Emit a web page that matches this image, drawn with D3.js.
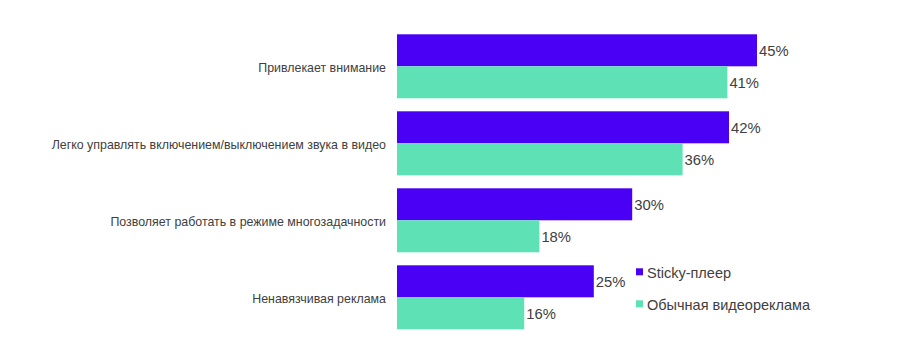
<!DOCTYPE html>
<html>
<head>
<meta charset="utf-8">
<script src="https://cdn.jsdelivr.net/npm/d3@7"></script>
<style>
  html, body { margin: 0; padding: 0; background: #fff; }
  svg { display: block; font-family: "Liberation Sans", Arial, sans-serif; }
</style>
</head>
<body>
<svg id="chart" width="900" height="363"></svg>
<script>
const categories = [
  "Привлекает внимание",
  "Легко управлять включением/выключением звука в видео",
  "Позволяет работать в режиме многозадачности",
  "Ненавязчивая реклама"
];
const seriesNames = ["Sticky-плеер", "Обычная видеореклама"];
const stickyValues = [45.0, 41.5, 29.4, 24.6];
const regularValues = [41.3, 35.7, 17.8, 15.9];
const stickyLabels = ["45%", "42%", "30%", "25%"];
const regularLabels = ["41%", "36%", "18%", "16%"];
const colors = ["#4b00f6", "#5ee1b5"];
const FONT = "'Liberation Sans', Arial, sans-serif";

const svg = d3.select("#chart");

const y = d3.scaleBand()
  .domain(categories)
  .range([34.3, 329.3])
  .paddingInner(13 / 77)
  .paddingOuter(0);

const ySub = d3.scaleBand()
  .domain([0, 1])
  .range([0, y.bandwidth()])
  .padding(0);

const x = d3.scaleLinear().domain([0, 45]).range([397, 757]);

const rows = categories.map((c, i) => ({
  cat: c,
  vals: [
    { s: 0, v: stickyValues[i], label: stickyLabels[i] },
    { s: 1, v: regularValues[i], label: regularLabels[i] }
  ]
}));

const g = svg.selectAll("g.row").data(rows).join("g")
  .attr("class", "row")
  .attr("transform", d => `translate(0,${y(d.cat)})`);

g.selectAll("rect").data(d => d.vals).join("rect")
  .attr("x", x(0))
  .attr("y", d => ySub(d.s))
  .attr("width", d => x(d.v) - x(0))
  .attr("height", ySub.bandwidth())
  .attr("fill", d => colors[d.s]);

g.selectAll("text.val").data(d => d.vals).join("text")
  .attr("class", "val")
  .attr("x", d => x(d.v) + 2)
  .attr("y", d => ySub(d.s) + ySub.bandwidth() / 2)
  .attr("dy", "0.37em")
  .attr("font-family", FONT)
  .attr("font-size", 14.8)
  .attr("fill", "#404040")
  .text(d => d.label);

// category axis labels
const yAxis = d3.axisLeft(y).tickSize(0).tickPadding(11);
const ax = svg.append("g")
  .attr("transform", `translate(${x(0)},0)`)
  .call(yAxis);
ax.select(".domain").remove();
ax.selectAll("text")
  .attr("font-size", 12.4)
  .attr("font-family", FONT)
  .attr("fill", "#404040")
  .attr("dy", "0.45em");

// legend
const legend = svg.append("g").attr("transform", "translate(636,264)");
const li = legend.selectAll("g").data(seriesNames).join("g")
  .attr("transform", (d, i) => `translate(0,${i * 32})`);
li.append("rect")
  .attr("x", 0).attr("y", 4.3)
  .attr("width", 7).attr("height", 7)
  .attr("fill", (d, i) => colors[i]);
li.append("text")
  .attr("x", 11)
  .attr("y", 14.3)
  .attr("font-family", FONT)
  .attr("font-size", 14.5)
  .attr("fill", "#404040")
  .text(d => d);
</script>
</body>
</html>
